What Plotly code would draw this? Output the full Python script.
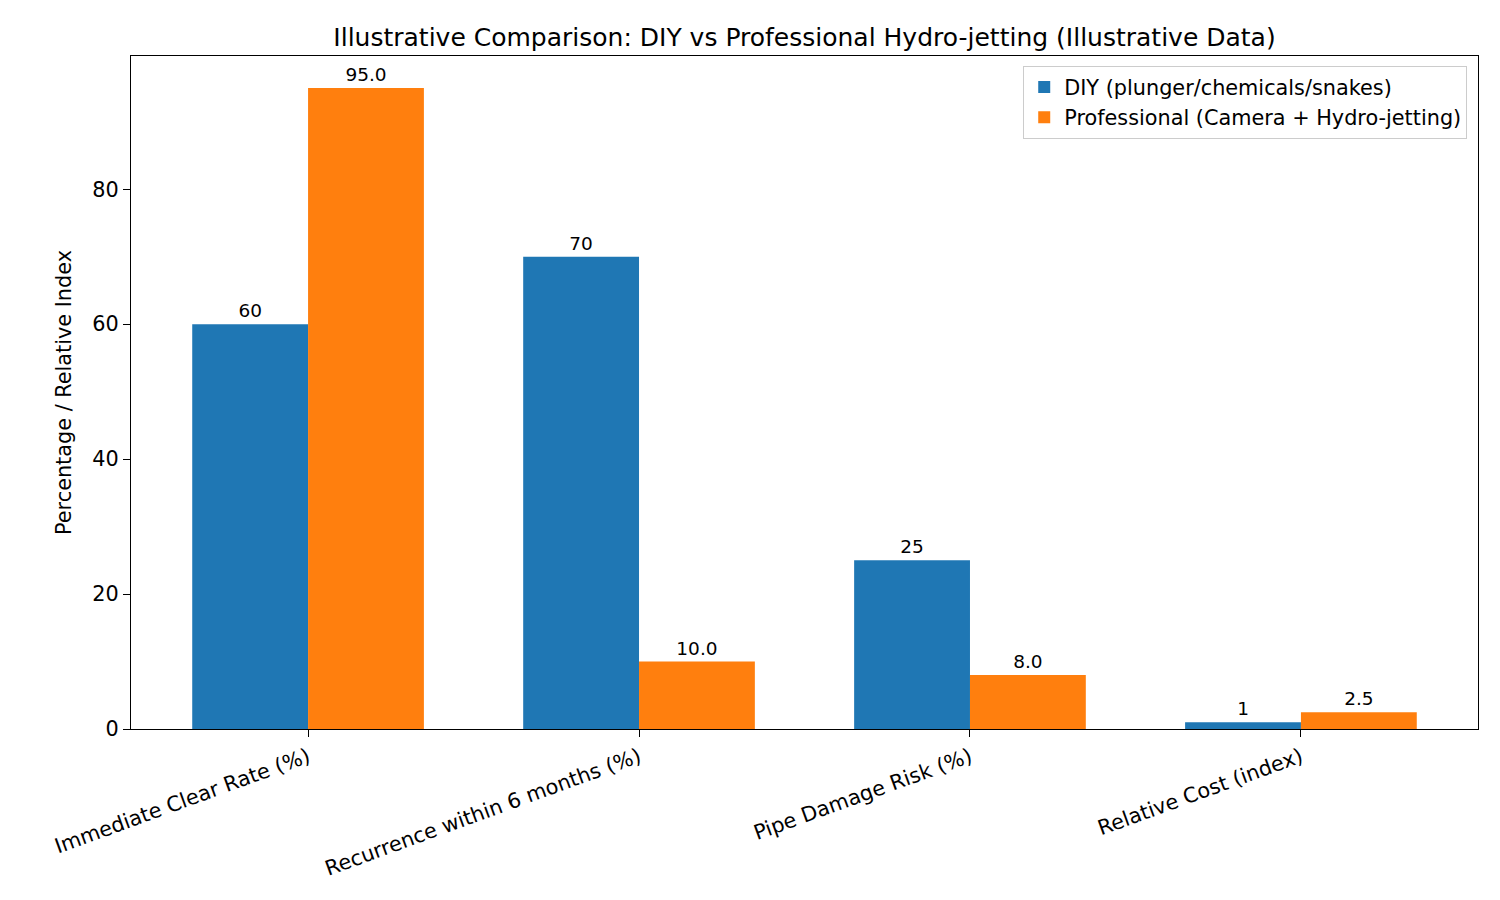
import plotly.graph_objects as go

categories = ["Immediate Clear Rate (%)", "Recurrence within 6 months (%)",
              "Pipe Damage Risk (%)", "Relative Cost (index)"]
diy_values = [60, 70, 25, 1]
pro_values = [95.0, 10.0, 8.0, 2.5]
diy_labels = ["60", "70", "25", "1"]
pro_labels = ["95.0", "10.0", "8.0", "2.5"]
y_ticks = [0, 20, 40, 60, 80]

x = list(range(len(categories)))
font = "DejaVu Sans"

fig = go.Figure()
fig.add_trace(go.Bar(
    x=x, y=diy_values, width=0.35, offset=-0.35,
    name="DIY (plunger/chemicals/snakes)", marker_color="#1f77b4",
    marker_line_width=0, text=diy_labels, textposition="outside",
    textfont=dict(family=font, size=18.5, color="black"), cliponaxis=False,
))
fig.add_trace(go.Bar(
    x=x, y=pro_values, width=0.35, offset=0,
    name="Professional (Camera + Hydro-jetting)", marker_color="#ff7f0e",
    marker_line_width=0, text=pro_labels, textposition="outside",
    textfont=dict(family=font, size=18.5, color="black"), cliponaxis=False,
))

fig.update_layout(
    width=1500, height=900,
    margin=dict(l=123, r=30, t=48, b=179),
    plot_bgcolor="white", paper_bgcolor="white",
    font=dict(family=font, size=20.8, color="black"),
    title=dict(text="Illustrative Comparison: DIY vs Professional Hydro-jetting (Illustrative Data)",
               x=0.5, xref="paper", xanchor="center", y=1, yref="paper", yanchor="bottom",
               pad=dict(b=10), font=dict(family=font, size=25)),
    barmode="overlay",
    legend=dict(x=0.992, y=0.985, xanchor="right", yanchor="top",
                bordercolor="#cccccc", borderwidth=1, bgcolor="rgba(255,255,255,0.8)",
                font=dict(family=font, size=20.8), tracegroupgap=0),
)
fig.update_xaxes(
    range=[-0.535, 3.535], tickmode="array", tickvals=x, ticktext=categories,
    tickangle=-20, ticks="outside", ticklen=7, tickwidth=1.3, tickcolor="black",
    showline=True, linecolor="black", linewidth=1.3, mirror=True, showgrid=False,
    tickfont=dict(family=font, size=20.8), zeroline=False,
)
fig.update_yaxes(
    range=[0, 99.75], tickmode="array", tickvals=y_ticks,
    ticks="outside", ticklen=7, tickwidth=1.3, tickcolor="black",
    showline=True, linecolor="black", linewidth=1.3, mirror=True, showgrid=False,
    zeroline=False, tickfont=dict(family=font, size=20.8),
    title=dict(text="Percentage / Relative Index", font=dict(family=font, size=20.8), standoff=14),
)

fig.write_html("out.html")
